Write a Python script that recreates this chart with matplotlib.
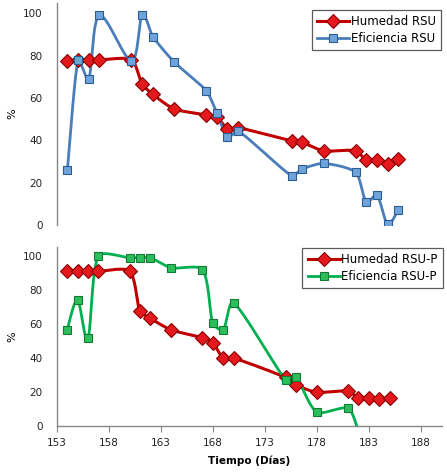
import numpy as np
import matplotlib
matplotlib.use("Agg")
import matplotlib.pyplot as plt
from matplotlib.lines import Line2D

# ---------------- data ----------------
dias = [154, 155, 156, 157, 160, 161, 162, 164, 167, 168, 169, 170, 175, 176, 178, 181, 182, 183, 184, 185]

humedad_rsu = [77.5, 78, 78, 78, 78, 66.6, 61.7, 54.8, 52, 51, 45.5, 46, 39.7, 39, 35, 35.1, 30.7, 30.7, 28.8, 31]
eficiencia_rsu = [26, 78, 69, 99, 77.5, 99, 89, 77, 63.5, 53, 41.4, 44.4, 23.3, 26.5, 29.1, 24.9, 10.7, 14.2, 0.5, 7.1]

humedad_rsup = [91, 91, 91, 91, 91, 67.6, 63.3, 56.5, 52, 49, 40, 40, 28.6, 24.1, 19.8, 20.6, 16.3, 16.3, 15.7, 16.3]
dias_ef_p = [154, 155, 156, 157, 160, 161, 162, 164, 167, 168, 169, 170, 175, 176, 178, 181, 182]
eficiencia_rsup = [56.5, 74, 51.6, 100, 99, 99, 99, 93, 92, 60.4, 56.5, 72.5, 27.1, 28.6, 8.2, 10.4, -3]

xticks = [153, 158, 163, 168, 173, 178, 183, 188]
yticks = [0, 20, 40, 60, 80, 100]


def smooth(x, y, kx, ky, n=30, clamp=0.22):
    """Smoothed line through the points (Catmull-Rom Bezier, with the control
    vectors limited relative to the segment length, in approx. screen space)."""
    p = np.column_stack([np.asarray(x, float) * kx, np.asarray(y, float) * ky])
    m = len(p)
    out = [p[0]]
    t = np.linspace(0, 1, n)[1:, None]

    def lim(v, seg):
        L = np.linalg.norm(v)
        mx = clamp * seg
        return v * (mx / L) if L > mx and L > 0 else v

    for i in range(m - 1):
        p1 = p[i]
        p2 = p[i + 1]
        p0 = p[i - 1] if i > 0 else p1
        p3 = p[i + 2] if i + 2 < m else p2
        seg = np.linalg.norm(p2 - p1)
        c1 = p1 + lim((p2 - p0) / 6.0, seg)
        c2 = p2 - lim((p3 - p1) / 6.0, seg)
        b = ((1 - t) ** 3) * p1 + 3 * ((1 - t) ** 2) * t * c1 + 3 * (1 - t) * t ** 2 * c2 + t ** 3 * p2
        out.extend(b)
    out = np.array(out)
    return out[:, 0] / kx, out[:, 1] / ky


RED_LINE = "#C00000"
RED_FILL = "#E3191E"
RED_EDGE = "#8B0000"
BLUE_LINE = "#4A7EBB"
BLUE_FILL = "#6FA3DB"
BLUE_EDGE = "#2C5D91"
GREEN_LINE = "#00B050"
GREEN_FILL = "#2DBE5C"
GREEN_EDGE = "#137A36"
AXIS = "#868686"

plt.rcParams['font.family'] = ['DejaVu Sans']

W, H = 447, 476
fig = plt.figure(figsize=(W / 100, H / 100), dpi=100)

def fx(px):
    return px / W

def fy(py):
    return 1 - py / H

ax1 = fig.add_axes([fx(56.7), fy(225), fx(441 - 56.7), (225 - 2.7) / H])
ax2 = fig.add_axes([fx(56.7), fy(426), fx(441.7 - 56.7), (426 - 247.5) / H])


def series(ax, x, y, kx, ky, line_c, fill_c, edge_c, marker, ms, lw, label):
    sx, sy = smooth(x, y, kx, ky)
    ax.plot(sx, sy, color=line_c, lw=lw, solid_capstyle='round', solid_joinstyle='round', zorder=3)
    ax.plot(x, y, linestyle='none', marker=marker, markersize=ms,
            markerfacecolor=fill_c, markeredgecolor=edge_c, markeredgewidth=0.8, zorder=4)
    return Line2D([], [], color=line_c, lw=lw, marker=marker, markersize=ms,
                  markerfacecolor=fill_c, markeredgecolor=edge_c, markeredgewidth=0.8, label=label)


h1 = series(ax1, dias, humedad_rsu, 10.7, 2.117, RED_LINE, RED_FILL, RED_EDGE, 'D', 7, 2.2, 'Humedad RSU')
h2 = series(ax1, dias, eficiencia_rsu, 10.7, 2.117, BLUE_LINE, BLUE_FILL, BLUE_EDGE, 's', 6, 2.0, 'Eficiencia RSU')

h3 = series(ax2, dias, humedad_rsup, 10.4, 1.7, RED_LINE, RED_FILL, RED_EDGE, 'D', 7, 2.2, 'Humedad RSU-P')
h4 = series(ax2, dias_ef_p, eficiencia_rsup, 10.4, 1.7, GREEN_LINE, GREEN_FILL, GREEN_EDGE, 's', 6, 2.0, 'Eficiencia RSU-P')

for ax in (ax1, ax2):
    ax.set_ylim(0, 105)
    ax.set_yticks(yticks)
    ax.tick_params(axis='y', length=0, pad=10, labelsize=7.5, colors='#222222')
    for s in ('top', 'right'):
        ax.spines[s].set_visible(False)
    ax.spines['left'].set_color(AXIS)
    ax.spines['left'].set_linewidth(1.0)
    ax.set_ylabel('%', fontsize=8)
    ax.yaxis.set_label_coords((17 - 56.7) / 384.5, 0.5)
    ax.patch.set_alpha(0)

ax1.set_xlim(153, 189)
ax1.spines['bottom'].set_visible(False)
ax1.set_xticks([])

ax2.set_xlim(153, 190)
ax2.set_xticks(xticks)
ax2.spines['bottom'].set_color(AXIS)
ax2.spines['bottom'].set_linewidth(1.0)
ax2.tick_params(axis='x', length=4, direction='out', color=AXIS, pad=5, labelsize=7.5, labelcolor='#222222')
ax2.set_xlabel('Tiempo (Días)', fontsize=7.5, fontweight='bold', labelpad=5)

leg_kw = dict(frameon=True, fancybox=False, shadow=False, fontsize=8.5, handlelength=2.7,
              handletextpad=0.15, borderpad=0.45, labelspacing=0.3, borderaxespad=0)
l1 = fig.legend(handles=[h1, h2], loc='upper right', bbox_to_anchor=(fx(441), fy(10)), **leg_kw)
l2 = fig.legend(handles=[h3, h4], loc='upper right', bbox_to_anchor=(fx(443), fy(248)), **leg_kw)
for l in (l1, l2):
    l.get_frame().set_edgecolor('#333333')
    l.get_frame().set_linewidth(0.9)

fig.savefig('out.png', dpi=100)
